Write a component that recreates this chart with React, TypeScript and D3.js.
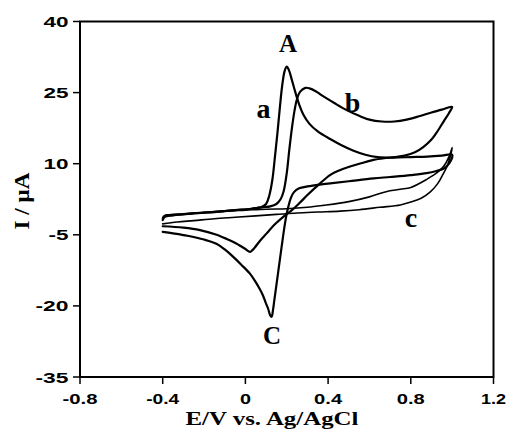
import React from 'react';
import * as d3 from 'd3';

// ---- axis ticks ----
const xTicks = [-0.8, -0.4, 0, 0.4, 0.8, 1.2];
const xTickLabels = ['-0.8', '-0.4', '0', '0.4', '0.8', '1.2'];
const xTickWidths = [35, 33, 11, 28, 28, 25];
const yTicks = [40, 25, 10, -5, -20, -35];
const yTickLabels = ['40', '25', '10', '-5', '-20', '-35'];
const yTickWidths = [25, 25, 25, 20, 33, 33];

// ---- curve a (sharp peaks A / C) ----
const aForward: [number, number][] = [
  [-0.4, -1.9], [-0.39, -1.2], [-0.35, -0.9], [-0.25, -0.5], [-0.15, -0.2], [-0.05, 0.2],
  [0.03, 0.5], [0.08, 0.9], [0.1, 1.5], [0.115, 3.2], [0.13, 6.5], [0.143, 11.5],
  [0.155, 16.5], [0.167, 22], [0.178, 26.5], [0.19, 29.6], [0.2, 30.5], [0.21, 29.8],
  [0.224, 27.8], [0.24, 25.3], [0.26, 22.5], [0.28, 20.4], [0.31, 18.4], [0.35, 16.8],
  [0.41, 15.2], [0.46, 14.0], [0.52, 12.8], [0.58, 11.9], [0.64, 11.4], [0.72, 11.3],
  [0.8, 11.4], [0.88, 11.5], [0.95, 11.7], [1.0, 11.9],
];
const aReverse: [number, number][] = [
  [1.0, 11.9], [0.985, 10.0], [0.96, 9.0], [0.92, 8.4], [0.877, 8.0], [0.8, 7.6],
  [0.7, 7.2], [0.62, 6.9], [0.5, 6.3], [0.42, 5.9], [0.36, 5.6], [0.3, 5.2],
  [0.26, 4.8], [0.235, 4.0], [0.22, 2.8], [0.208, 1.0], [0.2, -0.5], [0.19, -3.0],
  [0.18, -6.0], [0.17, -9.2], [0.16, -12.4], [0.15, -15.6], [0.14, -18.8], [0.133, -21.0],
  [0.127, -22.3], [0.12, -22.0], [0.11, -20.6], [0.1, -19.5], [0.085, -17.8], [0.07, -16.5],
  [0.05, -15.0], [0.022, -13.2], [-0.02, -11.3], [-0.06, -9.6], [-0.1, -8.1], [-0.14, -6.9],
  [-0.2, -6.0], [-0.28, -5.2], [-0.35, -4.7], [-0.4, -4.4],
];

// ---- curve b (broad peaks) ----
const bForward: [number, number][] = [
  [-0.4, -1.6], [-0.39, -1.0], [-0.35, -0.8], [-0.25, -0.45], [-0.15, -0.15], [-0.05, 0.2],
  [0.03, 0.5], [0.08, 0.8], [0.12, 1.0], [0.15, 1.5], [0.17, 2.5], [0.185, 4.2],
  [0.2, 8.0], [0.212, 12.8], [0.225, 17.5], [0.238, 21.3], [0.25, 23.7], [0.265, 25.2],
  [0.29, 26.0], [0.31, 25.9], [0.34, 25.3], [0.37, 24.4], [0.43, 22.8], [0.49, 21.3],
  [0.55, 20.1], [0.6, 19.3], [0.66, 18.9], [0.72, 18.9], [0.78, 19.3], [0.84, 20.0],
  [0.9, 20.8], [0.95, 21.4], [0.985, 21.9], [1.0, 22.0],
];
const bReverse: [number, number][] = [
  [1.0, 22.0], [0.985, 20.7], [0.96, 19.0], [0.93, 16.9], [0.9, 15.1], [0.86, 13.5],
  [0.82, 12.4], [0.77, 11.7], [0.72, 11.4], [0.68, 11.2], [0.62, 10.8], [0.56, 10.1],
  [0.506, 9.4], [0.45, 8.5], [0.409, 7.6], [0.36, 5.8], [0.3, 3.4], [0.264, 1.8],
  [0.225, 0.2], [0.183, -1.2], [0.14, -2.9], [0.103, -4.7], [0.07, -6.3], [0.045, -7.7],
  [0.03, -8.4], [0.022, -8.6], [0.0, -8.0], [-0.03, -7.2], [-0.058, -6.5], [-0.1, -5.7],
  [-0.139, -5.0], [-0.22, -4.0], [-0.3, -3.5], [-0.4, -3.2],
];

// ---- curve c (blank) ----
const cForward: [number, number][] = [
  [-0.4, -1.4], [-0.39, -0.9], [-0.3, -0.6], [-0.2, -0.3], [-0.1, 0.0], [0.0, 0.2],
  [0.1, 0.4], [0.2, 0.5], [0.3, 0.8], [0.376, 1.2], [0.5, 2.0], [0.6, 3.0],
  [0.68, 4.1], [0.75, 4.6], [0.8, 5.0], [0.877, 6.7], [0.93, 8.2], [0.96, 9.5],
  [0.985, 11.5], [1.0, 13.4],
];
const cReverse: [number, number][] = [
  [1.0, 13.4], [0.99, 11.3], [0.974, 9.3], [0.956, 7.8], [0.93, 5.8], [0.893, 4.0],
  [0.85, 2.7], [0.8, 1.9], [0.75, 1.3], [0.65, 0.8], [0.55, 0.3], [0.458, 0.0],
  [0.35, -0.2], [0.25, -0.4], [0.15, -0.7], [0.05, -1.0], [-0.05, -1.3], [-0.15, -1.6],
  [-0.25, -2.0], [-0.33, -2.3], [-0.4, -2.7],
];

const curveLabels = [
  { text: 'A', x: 288, y: 52, size: 25 },
  { text: 'C', x: 272, y: 344, size: 25 },
  { text: 'a', x: 263.5, y: 118, size: 28 },
  { text: 'b', x: 352.5, y: 112, size: 28 },
  { text: 'c', x: 411, y: 227, size: 28 },
];

const W = 510;
const H = 440;
const L = 80;
const R = 493.5;
const T = 21.5;
const B = 377;

export default function App() {
  const x = d3.scaleLinear().domain([-0.8, 1.2]).range([L, R]);
  const y = d3.scaleLinear().domain([-35, 40]).range([B, T]);
  const line = d3
    .line<[number, number]>()
    .x((d) => x(d[0]))
    .y((d) => y(d[1]))
    .curve(d3.curveCatmullRom.alpha(0.5));

  const curves = [
    { pts: aForward.concat(aReverse.slice(1)), w: 2.2 },
    { pts: bForward.concat(bReverse.slice(1)), w: 2.2 },
    { pts: cForward.concat(cReverse.slice(1)), w: 1.6 },
  ];

  const sans = "'Liberation Sans', Arial, sans-serif";
  const serif = "'Liberation Serif', 'Times New Roman', serif";

  return (
    <svg
      width={W}
      height={H}
      style={{ position: 'absolute', left: 0, top: 0, background: '#fff' }}
    >
      <rect x={0} y={0} width={W} height={H} fill="#fff" />
      {curves.map((c, i) => (
        <path
          key={i}
          d={line(c.pts) || ''}
          fill="none"
          stroke="#000"
          strokeWidth={c.w}
          strokeLinejoin="round"
          strokeLinecap="round"
        />
      ))}
      {/* frame */}
      <rect x={L} y={T} width={R - L} height={B - T} fill="none" stroke="#000" strokeWidth={2} />
      {/* y ticks */}
      {yTicks.map((t, i) => (
        <g key={'y' + i}>
          <line x1={L - 7} x2={L} y1={y(t)} y2={y(t)} stroke="#000" strokeWidth={1.5} />
          <text
            x={68.5}
            y={y(t) + 5.5}
            textAnchor="end"
            fontFamily={sans}
            fontWeight="bold"
            fontSize={15}
            textLength={yTickWidths[i]}
            lengthAdjust="spacingAndGlyphs"
          >
            {yTickLabels[i]}
          </text>
        </g>
      ))}
      {/* x ticks */}
      {xTicks.map((t, i) => (
        <g key={'x' + i}>
          <line x1={x(t)} x2={x(t)} y1={B} y2={B + 7} stroke="#000" strokeWidth={1.5} />
          <text
            x={x(t)}
            y={404}
            textAnchor="middle"
            fontFamily={sans}
            fontWeight="bold"
            fontSize={15}
            textLength={xTickWidths[i]}
            lengthAdjust="spacingAndGlyphs"
          >
            {xTickLabels[i]}
          </text>
        </g>
      ))}
      {/* axis titles */}
      <text
        x={272}
        y={425}
        textAnchor="middle"
        fontFamily={serif}
        fontWeight="bold"
        fontSize={18}
        textLength={173}
        lengthAdjust="spacingAndGlyphs"
      >
        E/V vs. Ag/AgCl
      </text>
      <text
        transform="translate(28.5,201) rotate(-90)"
        textAnchor="middle"
        fontFamily={serif}
        fontWeight="bold"
        fontSize={21}
        textLength={57}
        lengthAdjust="spacingAndGlyphs"
      >
        I / μA
      </text>
      {/* curve labels */}
      {curveLabels.map((l, i) => (
        <text
          key={'l' + i}
          x={l.x}
          y={l.y}
          textAnchor="middle"
          fontFamily={serif}
          fontWeight="bold"
          fontSize={l.size}
        >
          {l.text}
        </text>
      ))}
    </svg>
  );
}
